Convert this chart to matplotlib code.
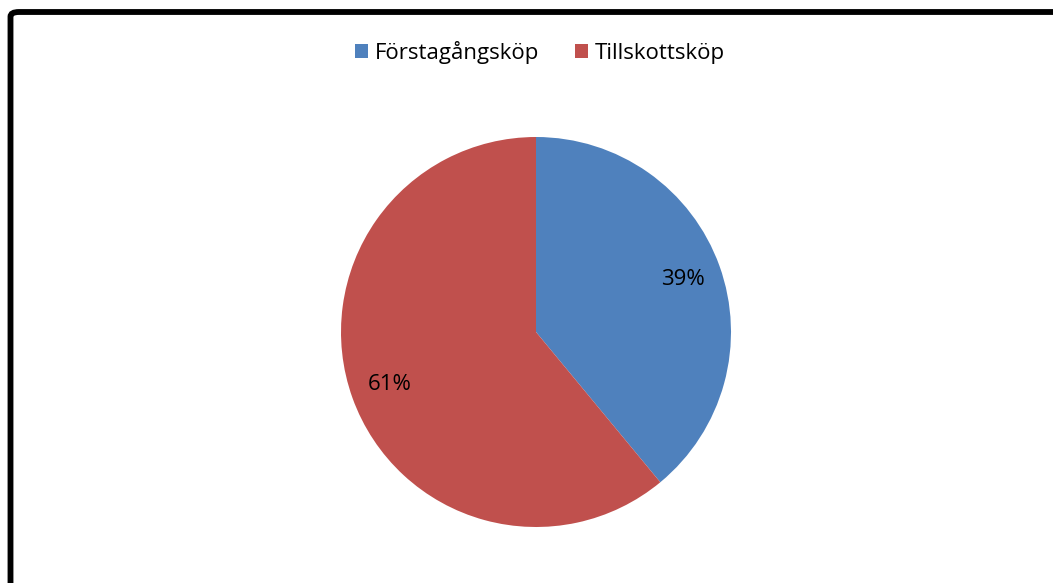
import matplotlib.pyplot as plt
from matplotlib.patches import FancyBboxPatch

labels = ['Förstagångsköp', 'Tillskottsköp']
shares = [39, 61]
colors = ['#4F81BD', '#C0504D']

plt.rcParams['font.family'] = ['Open Sans', 'DejaVu Sans']

fig = plt.figure(figsize=(10.53, 5.83), dpi=100)

# chart frame, runs off the right and bottom edges
W, H = 1053, 583
frame = FancyBboxPatch((10.5 / W, -0.1), 1.2, 1 + 0.1 - 12 / H,
                       boxstyle='round,pad=0,rounding_size=0.008',
                       transform=fig.transFigure, fill=False,
                       edgecolor='black', linewidth=4.2, clip_on=False)
fig.patches.append(frame)

r = 195
cx, cy = 536, 332
ax = fig.add_axes([(cx - r) / W, 1 - (cy + r) / H, 2 * r / W, 2 * r / H])
wedges, texts, autotexts = ax.pie(shares, colors=colors, startangle=90,
                                  counterclock=False, autopct='%d%%',
                                  pctdistance=0.8,
                                  wedgeprops=dict(linewidth=0),
                                  textprops=dict(fontsize=16))
ax.set_aspect('equal')
ax.set_xlim(-1, 1)
ax.set_ylim(-1, 1)

fig.legend(wedges, labels, loc='center', bbox_to_anchor=(540 / W, 1 - 52 / H),
           ncol=2, frameon=False, fontsize=16, handlelength=0.6,
           handleheight=0.6, handletextpad=0.3, columnspacing=1.6)

fig.savefig('out.png', dpi=100)
